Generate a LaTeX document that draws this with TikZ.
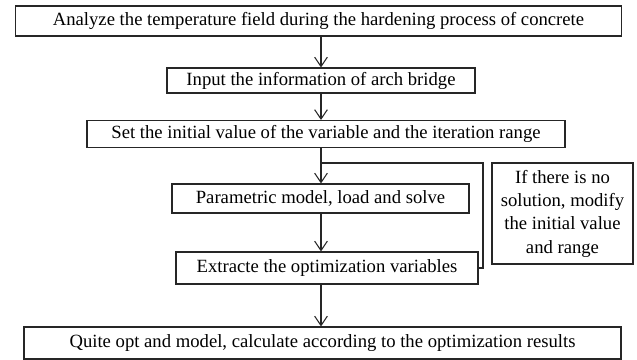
\documentclass[tikz,border=0pt]{standalone}
\usepackage{fontspec}
\setmainfont{Liberation Serif}
\usetikzlibrary{arrows.meta}

\tikzset{
  stepbox/.style={draw=black!85,line width=0.8pt,inner sep=0pt,font=\fontsize{14}{16}\selectfont},
  flow/.style={draw=black!85,line width=0.8pt,-{Straight Barb[length=7pt,width=9.5pt,line width=0.8pt]}}
}

\begin{document}
\begin{tikzpicture}[x=0.75pt,y=-0.75pt]
   \useasboundingbox (0,0) rectangle (637,360);

   \node[stepbox,minimum width=455pt,minimum height=22.5pt] (b1) at (318.5,21) {Analyze the temperature field during the hardening process of concrete};
   \node[stepbox,minimum width=231pt,minimum height=18.75pt] (b2) at (321,80.5) {Input the information of arch bridge};
   \node[stepbox,minimum width=358.5pt,minimum height=20.25pt] (b3) at (326,134) {Set the initial value of the variable and the iteration range};
   \node[stepbox,minimum width=222.75pt,minimum height=21.75pt] (b4) at (320.5,198.5) {Parametric model, load and solve};
   \node[stepbox,minimum width=226.5pt,minimum height=24pt] (b5) at (327,268) {Extracte the optimization variables};
   \node[stepbox,minimum width=447.75pt,minimum height=24pt] (b6) at (322.5,343) {Quite opt and model, calculate according to the optimization results};
   \node[stepbox,minimum width=105.75pt,minimum height=75.75pt,align=center,font=\fontsize{14}{17.5}\selectfont] (side) at (562.5,213.5)
     {If there is no\\solution, modify\\the initial value\\and range};

   % main line
   \coordinate (ax) at (321,0);
   \coordinate (j) at (321,163);
   \coordinate (r) at (483,163);

   \draw[flow] (b1.south -| ax) -- (b2.north -| ax);
   \draw[flow] (b2.south -| ax) -- (b3.north -| ax);
   \draw[flow] (b3.south -| ax) -- (b4.north -| ax);
   \draw[flow] (b4.south -| ax) -- (b5.north -| ax);
   \draw[flow] (b5.south -| ax) -- (b6.north -| ax);

   % loop back
   \draw[draw=black!85,line width=0.8pt] (j) -- (r) |- (b5.east);

\end{tikzpicture}
\end{document}
